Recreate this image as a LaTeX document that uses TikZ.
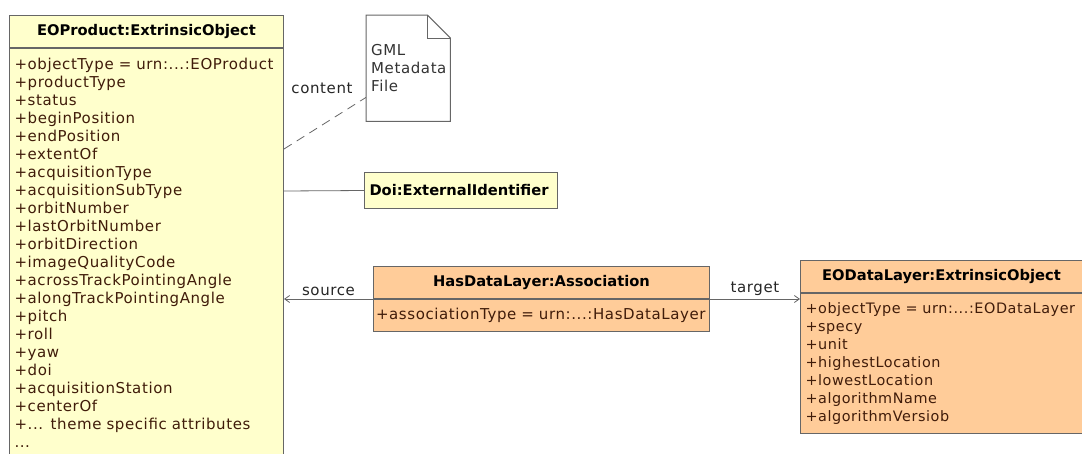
\documentclass[tikz,border=0pt]{standalone}
\usepackage{fontspec}
\setmainfont{DejaVu Sans}
\newfontfamily\umlfont[LetterSpace=4]{DejaVu Sans}
\usepackage{tikz}
\usetikzlibrary{arrows.meta}

\definecolor{jaune}{RGB}{255,255,204}
\definecolor{orange}{RGB}{255,204,153}
\definecolor{trait}{RGB}{102,102,102}
\definecolor{attr}{RGB}{64,28,10}

\tikzset{
  classe/.style={draw=trait, line width=1pt, anchor=north west, inner xsep=5pt, inner ysep=0pt},
  entete/.style={classe, font=\fontsize{14.7}{18}\selectfont\bfseries},
  attributs/.style={classe, align=left, text=attr, font=\umlfont\fontsize{15}{18}\selectfont},
  fleche/.style={draw=trait, line width=0.8pt, -{Straight Barb[length=5pt,width=7pt]}},
  etiquette/.style={font=\umlfont\fontsize{15}{18}\selectfont, text=black!85}
}

\begin{document}
\begin{tikzpicture}[x=1pt, y=-1pt]
    \useasboundingbox (0,0) rectangle (1082,453);

    % Classe EOProduct
    \node[entete, fill=jaune, minimum width=274, minimum height=32] (eoprodT) at (9,15) {EOProduct:ExtrinsicObject};
    \node[attributs, fill=jaune, text width=264pt, minimum height=409] (eoprodA) at (eoprodT.south west) {
        +objectType = urn:...:EOProduct\\
        +productType\\
        +status\\
        +beginPosition\\
        +endPosition\\
        +extentOf\\
        +acquisitionType\\
        +acquisitionSubType\\
        +orbitNumber\\
        +lastOrbitNumber\\
        +orbitDirection\\
        +imageQualityCode\\
        +acrossTrackPointingAngle\\
        +alongTrackPointingAngle\\
        +pitch\\
        +roll\\
        +yaw\\
        +doi\\
        +acquisitionStation\\
        +centerOf\\
        +... theme specific attributes\\
        ...};

    % Document GML
    \node[anchor=north west, minimum width=84, minimum height=106, text width=74pt, inner xsep=5pt,
          align=left, font=\umlfont\fontsize{15}{18}\selectfont, text=black!80] (doc) at (366,15) {GML\\Metadata\\File};
    \draw[draw=trait, line width=1pt] (doc.south west) -- (doc.north west) -- ([xshift=-23pt]doc.north east)
        -- ([yshift=-23pt]doc.north east) -- (doc.south east) -- cycle;
    \draw[draw=trait, line width=1pt] ([xshift=-23pt]doc.north east) -- ([xshift=-23pt,yshift=-23pt]doc.north east)
        -- ([yshift=-23pt]doc.north east);

    % Identifiant externe
    \node[entete, fill=jaune, text width=183pt, align=left, minimum height=36] (doi) at (364,172) {Doi:ExternalIdentifier};

    % Association
    \node[entete, fill=orange, minimum width=336, minimum height=32] (assocT) at (373,266) {HasDataLayer:Association};
    \node[attributs, fill=orange, text width=331pt, inner xsep=2.5pt, minimum height=32] (assocA) at (assocT.south west) {+associationType = urn:...:HasDataLayer};

    % Classe EODataLayer
    \node[entete, fill=orange, minimum width=282, minimum height=32] (eodlT) at (800,260) {EODataLayer:ExtrinsicObject};
    \draw[draw=trait, fill=orange, line width=1pt] (eodlT.north east) rectangle ([xshift=12pt]eodlT.south east);
    \node[attributs, fill=orange, text width=300pt, minimum height=140, font=\umlfont\fontsize{14.4}{18}\selectfont] (eodlA) at (eodlT.south west) {
        +objectType = urn:...:EODataLayer\\
        +specy\\
        +unit\\
        +highestLocation\\
        +lowestLocation\\
        +algorithmName\\
        +algorithmVersiob};

    % Liens
    \draw[draw=trait, line width=0.8pt, dashed, dash pattern=on 9pt off 6pt] ([yshift=-101pt]eoprodA.north east) -- ([yshift=24pt]doc.south west);
    \node[etiquette] (content) at (322,88) {content};
    \draw[draw=trait, line width=0.8pt] ([yshift=-143pt]eoprodA.north east) -- (doi.west);
    \draw[fleche] (assocT.south west) -- (assocT.south west -| eoprodA.east) node[etiquette, midway, above] (source) {source};
    \draw[fleche] (assocT.south east) -- (assocT.south east -| eodlA.west) node[etiquette, midway, above] (target) {target};
\end{tikzpicture}
\end{document}
